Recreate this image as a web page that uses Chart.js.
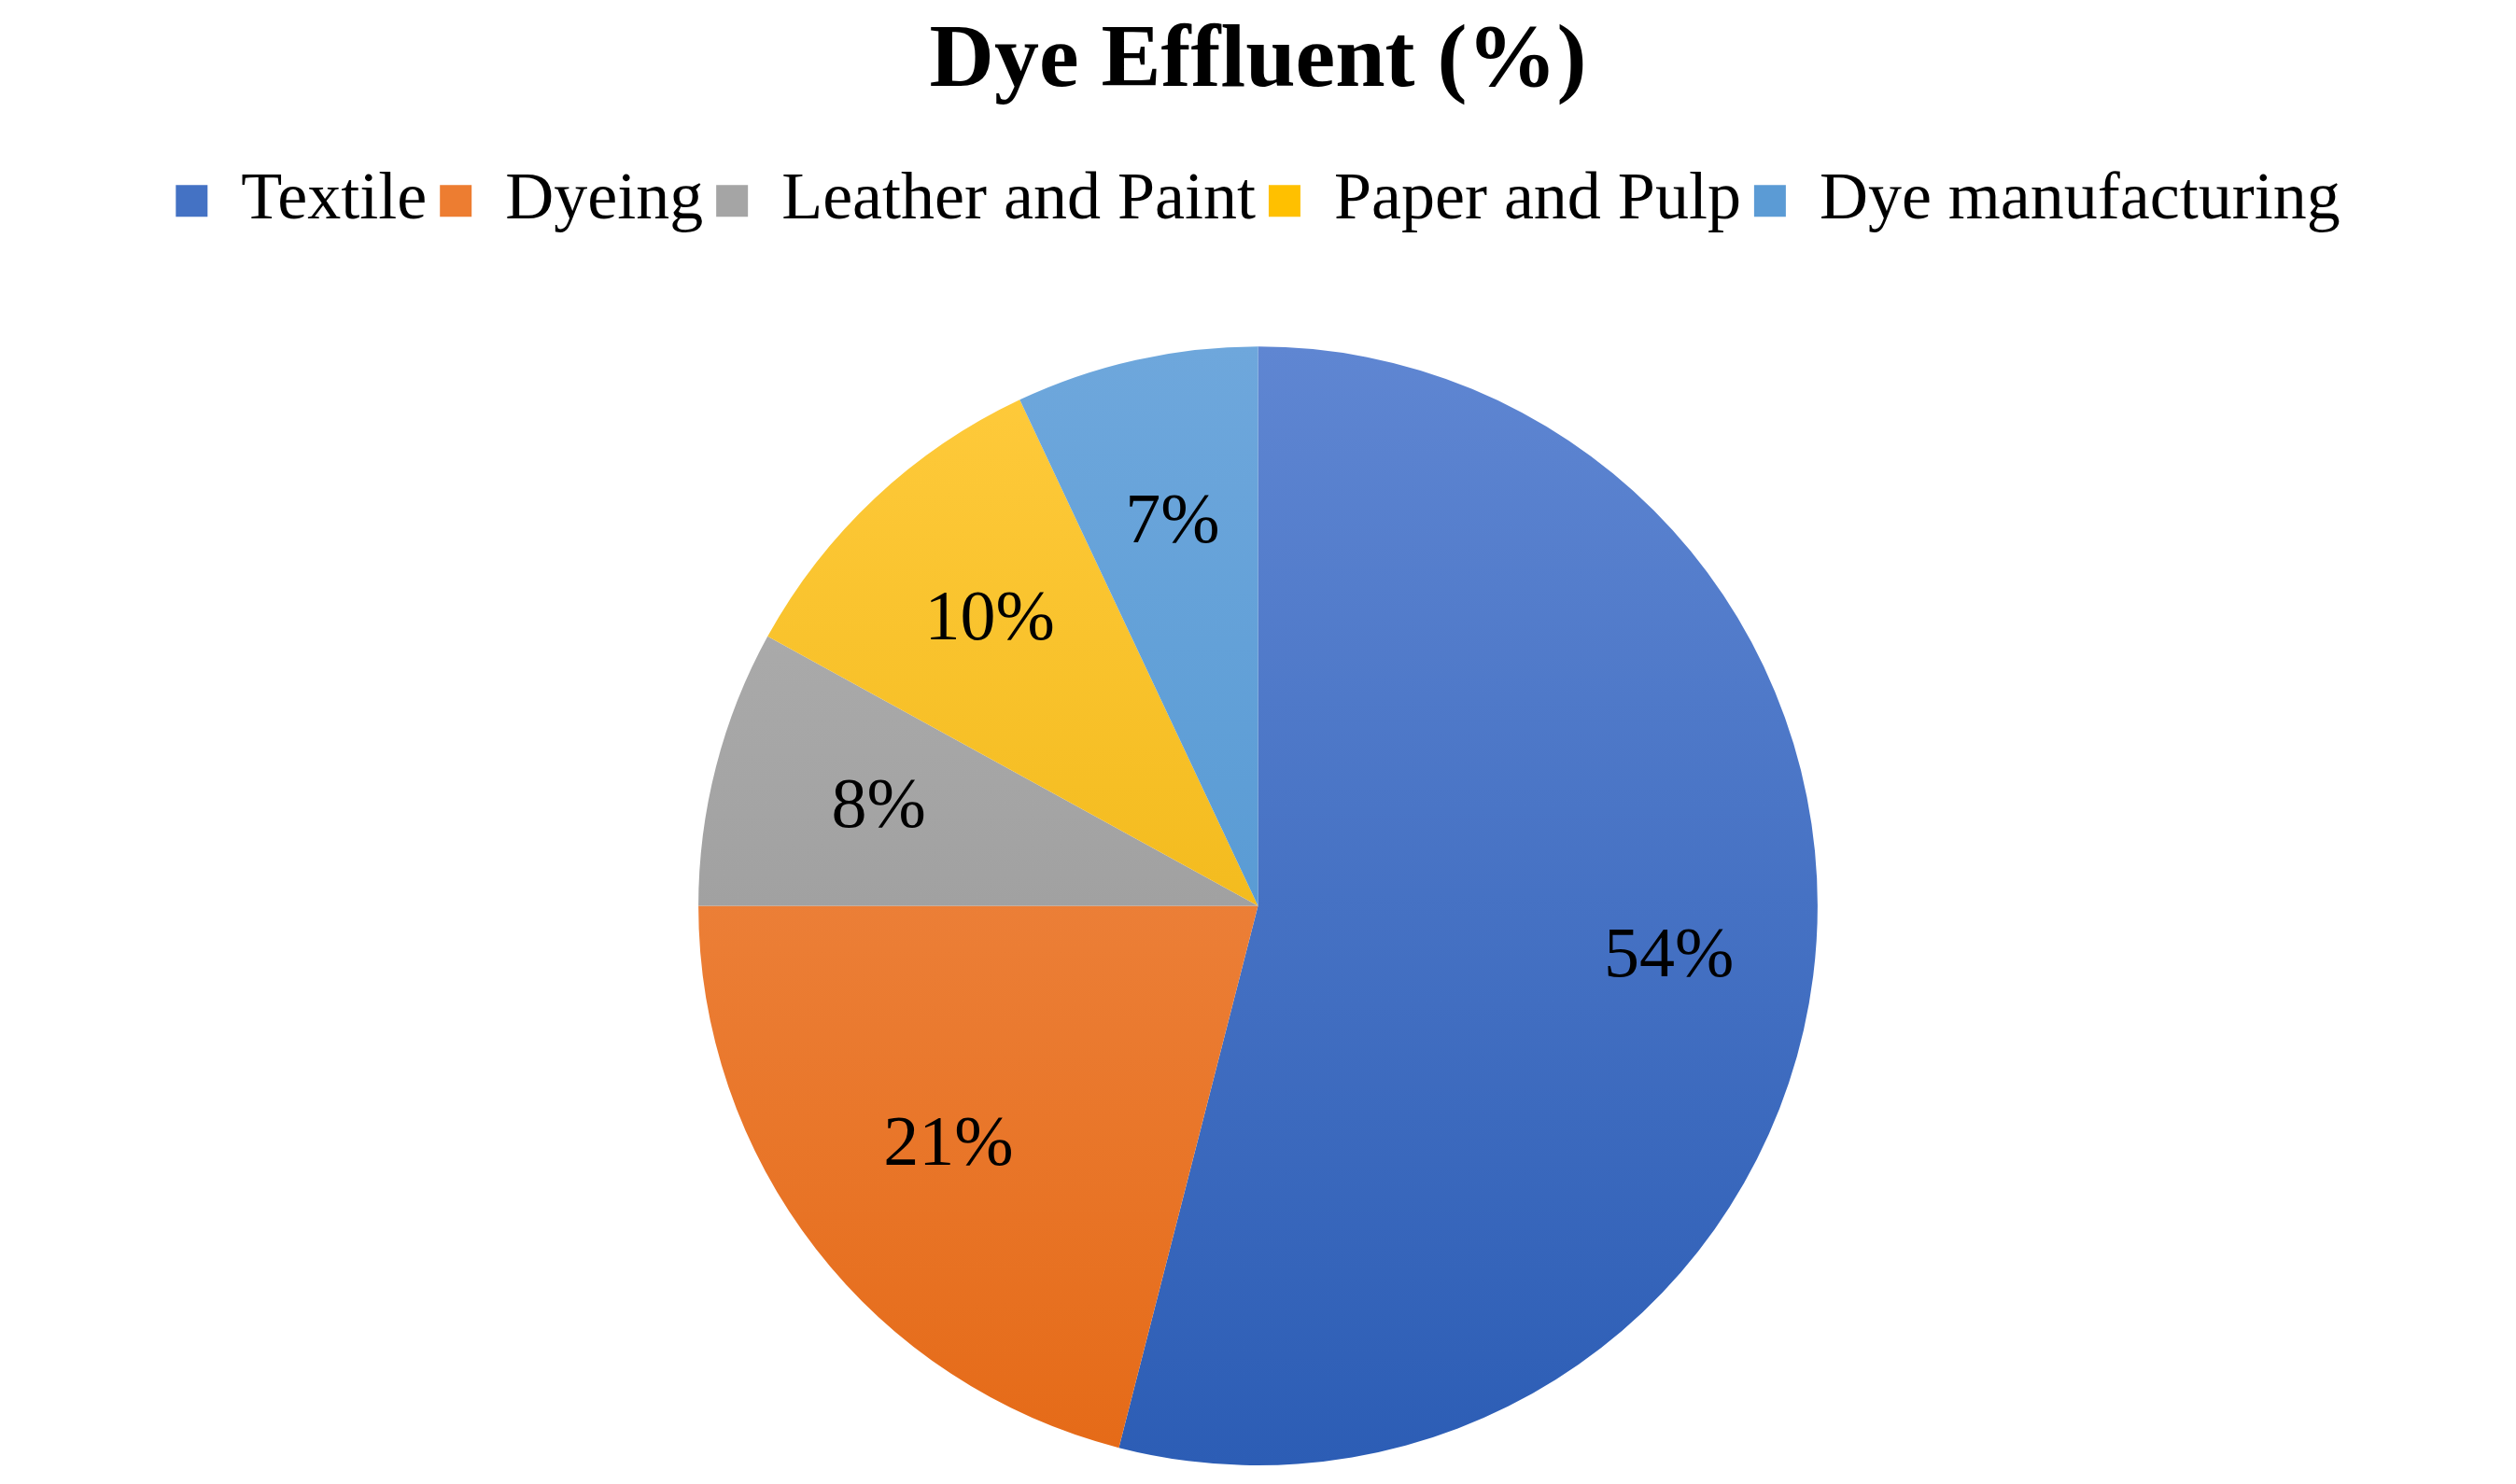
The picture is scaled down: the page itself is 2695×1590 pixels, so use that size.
<!DOCTYPE html>
<html><head><meta charset="utf-8">
<script src="https://cdn.jsdelivr.net/npm/chart.js@4"></script>
<style>html,body{margin:0;background:#fff}#w{width:2695px;height:1590px}</style>
</head><body><div id="w"><canvas id="c"></canvas></div>
<script>
const categories=["Textile","Dyeing","Leather and Paint","Paper and Pulp","Dye manufacturing"];
const values=[54,21,8,10,7];
const topColors=["#5f86d2","#f29356","#b3b3b3","#ffcb3d","#6ea7dc"];
const botColors=["#2c5db5","#e56a17","#8f8f8f","#e8ac00","#4590cd"];
const baseColors=["#4472C4","#ED7D31","#A5A5A5","#FFC000","#5B9BD5"];
function grad(ctx){
  const ch=ctx.chart,a=ch.chartArea;
  if(!a||!isFinite(a.top)||!isFinite(a.bottom))return baseColors[ctx.dataIndex];
  const cy=(a.top+a.bottom)/2,r=Math.min(a.right-a.left,a.bottom-a.top)/2;
  if(!isFinite(cy)||!isFinite(r)||r<=0)return baseColors[ctx.dataIndex];
  const g=ch.ctx.createLinearGradient(0,cy-r,0,cy+r);
  g.addColorStop(0,topColors[ctx.dataIndex]);g.addColorStop(1,botColors[ctx.dataIndex]);return g;
}
const labelPlugin={id:'lbl',afterDatasetsDraw(ch){
  const c=ch.ctx;c.save();c.font='76px "Liberation Serif"';c.fillStyle='#000';c.textAlign='center';c.textBaseline='middle';
  ch.getDatasetMeta(0).data.forEach((el,i)=>{
    const mid=(el.startAngle+el.endAngle)/2,r=el.outerRadius*(i===0?0.74:0.7);
    c.fillText(values[i]+'%',el.x+Math.cos(mid)*r,el.y+Math.sin(mid)*r);
  });c.restore();}};
const legendGap={id:'gap',beforeLayout(ch){const L=ch.legend;if(L&&!L._gap){L._gap=true;const f=L.fit;L.fit=function(){f.call(this);this.height+=110;};}}};
new Chart(document.getElementById('c'),{type:'pie',
 data:{labels:categories,datasets:[{data:values,backgroundColor:grad,borderWidth:0}]},
 options:{responsive:true,maintainAspectRatio:false,animation:false,
  layout:{padding:{bottom:20}},
  plugins:{tooltip:{enabled:false},
   title:{display:true,text:'Dye Effluent (%)',color:'#000',font:{family:'Liberation Serif',size:96,weight:'bold'},padding:{top:10,bottom:40}},
   legend:{position:'top',labels:{color:'#000',font:{family:'Liberation Serif',size:72},boxWidth:34,boxHeight:34,padding:14,
     generateLabels(ch){return categories.map((t,i)=>({text:t,fillStyle:baseColors[i],strokeStyle:baseColors[i],lineWidth:0,index:i}));}}}}},
 plugins:[labelPlugin,legendGap]});
</script></body></html>
